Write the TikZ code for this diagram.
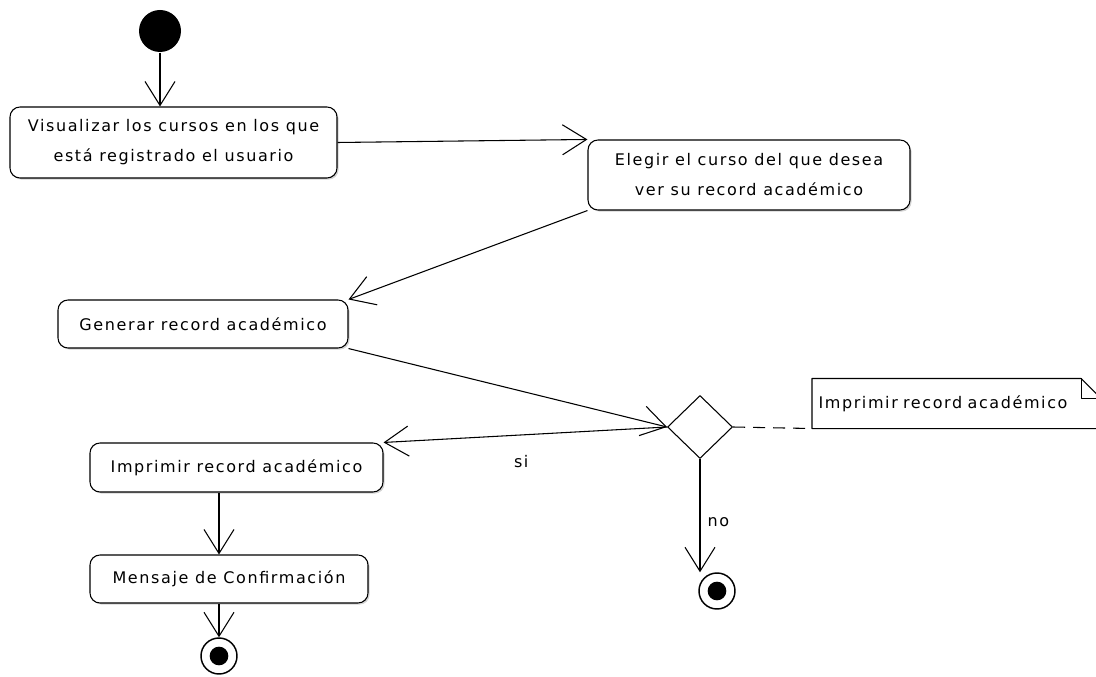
\documentclass[tikz,border=0pt]{standalone}
\usepackage{fontspec}
\setmainfont{DejaVu Sans}
\newfontfamily\actfont[LetterSpace=10]{DejaVu Sans}
\usetikzlibrary{arrows.meta,shapes.geometric,shadows}

\begin{document}
\begin{tikzpicture}[x=0.75pt,y=-0.75pt,line width=0.8pt,line join=round,
        accion/.style={draw,rounded corners=7.5pt,fill=white,align=center,
            drop shadow={shadow xshift=1.2pt,shadow yshift=-1.2pt,opacity=0.35},
            font=\actfont\fontsize{12}{22.5}\selectfont},
        etiqueta/.style={font=\actfont\fontsize{12}{14}\selectfont},
        flujo/.style={-{Straight Barb[length=18pt,width=22.5pt]}},
        final/.style={circle,draw,line width=1.1pt,fill=white,minimum size=27pt,inner sep=0pt,
            path picture={\fill[black] (path picture bounding box.center) circle (7pt);}}]
    \useasboundingbox (0,0) rectangle (1096,677);

    % nodos
    \node[circle,fill=black,minimum size=31.5pt,inner sep=0pt] (inicio) at (160,31) {};
    \node[accion,minimum width=245.25pt,minimum height=53.25pt] (visualizar) at (173.5,142.5)
        {Visualizar los cursos en los que\\está registrado el usuario};
    \node[accion,minimum width=241.5pt,minimum height=52.5pt] (elegir) at (749,175)
        {Elegir el curso del que desea\\ver su record académico};
    \node[accion,minimum width=217.5pt,minimum height=36pt] (generar) at (203,324)
        {Generar record académico};
    \node[diamond,draw,fill=white,minimum width=48.75pt,minimum height=47.25pt,inner sep=0pt] (decision) at (700,427) {};
    \node[accion,minimum width=219.75pt,minimum height=36.75pt] (imprimir) at (236.5,467.5)
        {Imprimir record académico};
    \node[accion,minimum width=208.5pt,minimum height=36pt] (mensaje) at (229,579)
        {Mensaje de Confirmación};
    \node[final] (fin1) at (219,656) {};
    \node[final] (fin2) at (717,591) {};

    % nota
    \node[etiqueta,anchor=west,text width=207pt,inner sep=4.5pt,minimum height=36.75pt,align=left] (nota) at (812,403.5)
        {Imprimir record académico};
    \draw (nota.north west) -- ([xshift=-15pt]nota.north east) -- ([yshift=-15pt]nota.north east)
        -- (nota.south east) -- (nota.south west) -- cycle;
    \draw ([xshift=-15pt]nota.north east) |- ([yshift=-15pt]nota.north east);

    % transiciones
    \draw[flujo] (inicio) -- (inicio |- visualizar.north);
    \draw[flujo] (visualizar.east) -- (elegir.north west);
    \draw[flujo] (elegir.south west) -- (generar.north east);
    \draw[flujo] (generar.south east) -- (decision.west);
    \draw[flujo] (decision.west) -- node[etiqueta,below=12pt,xshift=-3pt] {si} (imprimir.north east);
    \draw[flujo] (decision.south) -- node[etiqueta,right=2pt,yshift=-5pt] {no} (decision.south |- fin2.north);
    \draw[flujo] (imprimir.south -| fin1) -- (mensaje.north -| fin1);
    \draw[flujo] (mensaje.south -| fin1) -- (fin1);
    \draw[dash pattern=on 9pt off 6pt] (decision.east) -- (nota.south west);
\end{tikzpicture}
\end{document}
